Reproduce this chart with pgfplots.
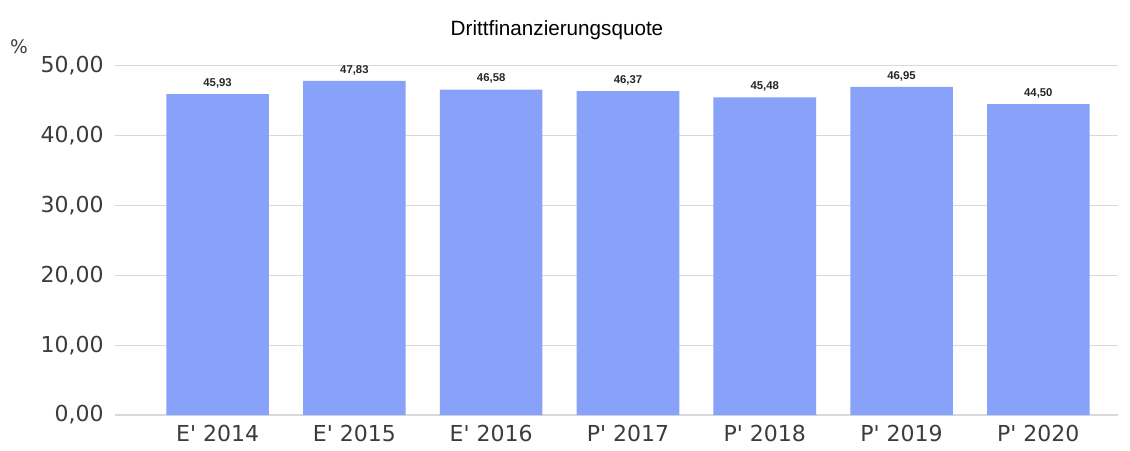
\documentclass[border=0pt]{standalone}
\usepackage{fontspec}
\setmainfont{Liberation Sans}
\newfontfamily\tickfont{DejaVu Sans}
\usepackage{pgfplots}
\pgfplotsset{compat=1.18}

\definecolor{barblue}{RGB}{135,162,248}
\definecolor{gridgray}{RGB}{217,217,217}
\definecolor{txtgray}{RGB}{60,60,60}

\begin{document}
\begin{tikzpicture}
\useasboundingbox (-86.25pt,-26.25pt) rectangle (761.25pt,311.25pt);
\begin{axis}[
  scale only axis,
  width=752pt, height=262pt,
  ybar, bar width=0.75,
  xmin=-0.75, xmax=6.58,
  ymin=0, ymax=50,
  xtick=data,
  xticklabels={E' 2014,E' 2015,E' 2016,P' 2017,P' 2018,P' 2019,P' 2020},
  ytick={0,10,20,30,40,50},
  axis line style={draw=none},
  major tick length=0pt,
  ymajorgrids, grid style={gridgray, line width=0.8pt},
  tick label style={font=\tickfont\fontsize{16.5}{18}\selectfont, text=txtgray},
  xticklabel style={yshift=-4pt},
  yticklabel style={xshift=-5pt},
  /pgf/number format/assume math mode=true,
  yticklabel={\pgfmathprintnumber[fixed,fixed zerofill,precision=2,use comma]{\tick}},
  nodes near coords={\pgfmathprintnumber[fixed,fixed zerofill,precision=2,use comma]{\pgfplotspointmeta}},
  nodes near coords style={font=\bfseries\fontsize{8.5}{10}\selectfont, text=black!85, yshift=1pt},
  clip=false,
]
\addplot[fill=barblue, draw=none] coordinates {
  (0,45.93) (1,47.83) (2,46.58) (3,46.37) (4,45.48) (5,46.95) (6,44.50)
};
\end{axis}
\node[font=\fontsize{15.5}{17}\selectfont, text=black] at (331.5pt,289pt) {Drittfinanzierungsquote};
\node[font=\tickfont\fontsize{14}{16}\selectfont, text=txtgray] at (-72pt,276pt) {\%};
\end{tikzpicture}
\end{document}
